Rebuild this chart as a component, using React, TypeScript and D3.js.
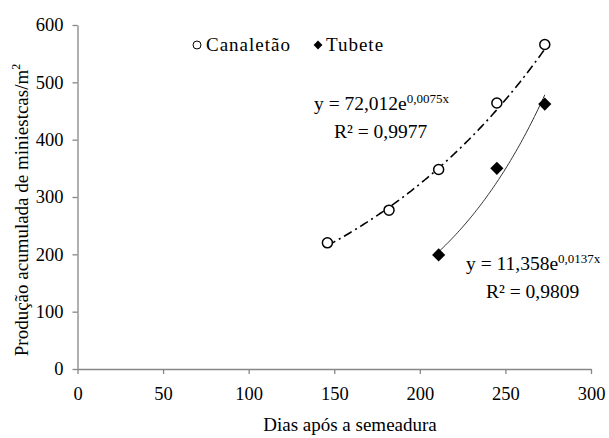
import React, { useRef, useEffect } from 'react';
import * as d3 from 'd3';

// dias após a semeadura
const diasCanaletao = [146, 182, 211, 245, 273];
const prodCanaletao = [220, 277, 348, 464, 566];
const diasTubete = [211, 245, 273];
const prodTubete = [199, 350, 462];

// coeficientes das linhas de tendência exponencial (y = a e^(bx))
const fitCanaletao = [72.012, 0.0075];
const fitTubete = [11.358, 0.0137];

const xTicks = [0, 50, 100, 150, 200, 250, 300];
const yTicks = [0, 100, 200, 300, 400, 500, 600];

const W = 609;
const H = 438;
const FONT = '"Liberation Serif", "Times New Roman", "DejaVu Serif", serif';

const App = () => {
  const svgRef = useRef<SVGSVGElement>(null);

  useEffect(() => {
    const svg = d3
      .select(svgRef.current)
      .attr('width', W)
      .attr('height', H)
      .style('font-family', FONT);
    svg.selectAll('*').remove();

    const x = d3.scaleLinear().domain([0, 300]).range([77.5, 591]);
    const y = d3.scaleLinear().domain([0, 600]).range([369, 25]);
    const axisColor = '#868686';

    // eixos
    const xAxis = svg
      .append('g')
      .attr('transform', `translate(0,${y(0)})`)
      .call(d3.axisBottom(x).tickValues(xTicks).tickSize(5).tickPadding(8).tickSizeOuter(0));
    const yAxis = svg
      .append('g')
      .attr('transform', `translate(${x(0)},0)`)
      .call(d3.axisLeft(y).tickValues(yTicks).tickSize(5).tickPadding(9).tickSizeOuter(0));

    [xAxis, yAxis].forEach(g => {
      g.attr('font-family', null);
      g.select('.domain').attr('stroke', axisColor).attr('stroke-width', 1.3);
      g.selectAll('.tick line').attr('stroke', axisColor).attr('stroke-width', 1.3);
      g.selectAll('.tick text')
        .attr('fill', '#000')
        .style('font-family', FONT)
        .attr('font-size', 18.5);
    });
    xAxis.selectAll('.tick text').attr('dy', '0.95em');

    // títulos dos eixos
    svg
      .append('text')
      .attr('x', 350)
      .attr('y', 431)
      .attr('text-anchor', 'middle')
      .attr('font-size', 19)
      .text('Dias após a semeadura');

    const yLabel = svg
      .append('text')
      .attr('transform', `translate(28,${210}) rotate(-90)`)
      .attr('text-anchor', 'middle')
      .attr('font-size', 19);
    yLabel.append('tspan').text('Produção acumulada de miniestcas/m');
    yLabel.append('tspan').attr('font-size', 12).attr('dy', -8).text('2');

    // linhas de tendência
    const trend = (fit: number[], x0: number, x1: number) =>
      d3.range(x0, x1 + 0.5, 1).map(d => [d, fit[0] * Math.exp(fit[1] * d)] as [number, number]);
    const line = d3
      .line<[number, number]>()
      .x(d => x(d[0]))
      .y(d => y(d[1]));

    svg
      .append('path')
      .attr('d', line(trend(fitCanaletao, diasCanaletao[0], diasCanaletao[diasCanaletao.length - 1])))
      .attr('fill', 'none')
      .attr('stroke', '#000')
      .attr('stroke-width', 1.6)
      .attr('stroke-dasharray', '9 4 2 4');

    svg
      .append('path')
      .attr('d', line(trend(fitTubete, diasTubete[0], diasTubete[diasTubete.length - 1])))
      .attr('fill', 'none')
      .attr('stroke', '#333')
      .attr('stroke-width', 1);

    // pontos
    svg
      .selectAll('.canaletao')
      .data(diasCanaletao)
      .enter()
      .append('circle')
      .attr('cx', d => x(d))
      .attr('cy', (d, i) => y(prodCanaletao[i]))
      .attr('r', 5)
      .attr('fill', '#fff')
      .attr('stroke', '#000')
      .attr('stroke-width', 1.5);

    const diamond = d3.symbol().type(d3.symbolDiamond2).size(110);
    svg
      .selectAll('.tubete')
      .data(diasTubete)
      .enter()
      .append('path')
      .attr('d', diamond)
      .attr('transform', (d, i) => `translate(${x(d)},${y(prodTubete[i])})`)
      .attr('fill', '#000');

    // legenda
    svg
      .append('circle')
      .attr('cx', 197)
      .attr('cy', 45)
      .attr('r', 4)
      .attr('fill', '#fff')
      .attr('stroke', '#000')
      .attr('stroke-width', 1);
    svg
      .append('text')
      .attr('x', 206)
      .attr('y', 51)
      .attr('font-size', 19)
      .attr('letter-spacing', 1)
      .text('Canaletão');
    svg
      .append('path')
      .attr('d', d3.symbol().type(d3.symbolDiamond2).size(50)())
      .attr('transform', 'translate(318,45)')
      .attr('fill', '#000');
    svg
      .append('text')
      .attr('x', 326)
      .attr('y', 51)
      .attr('font-size', 19)
      .attr('letter-spacing', 1)
      .text('Tubete');

    // equações
    const equation = (ex: number, ey: number, a: string, b: string, r2: string, rx: number) => {
      const t = svg.append('text').attr('x', ex).attr('y', ey).attr('font-size', 19.5);
      t.append('tspan').text(`y = ${a}e`);
      t.append('tspan').attr('font-size', 13).attr('dy', -7).text(`${b}x`);
      svg
        .append('text')
        .attr('x', rx)
        .attr('y', ey + 28)
        .attr('font-size', 19.5)
        .text(`R² = ${r2}`);
    };
    equation(314, 110, '72,012', '0,0075', '0,9977', 334);
    equation(466, 270, '11,358', '0,0137', '0,9809', 486);
  }, []);

  return (
    <svg
      ref={svgRef}
      style={{ position: 'absolute', left: 0, top: 0, display: 'block', overflow: 'visible' }}
    ></svg>
  );
};

export default App;
